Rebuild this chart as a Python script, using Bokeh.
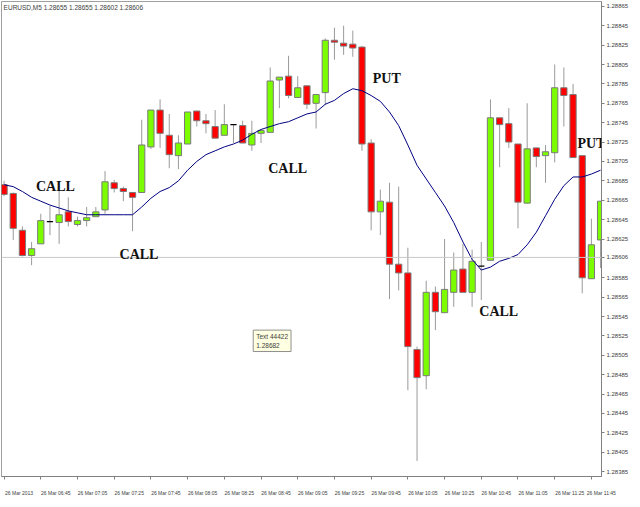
from bokeh.plotting import figure
from bokeh.models import (Range1d, FixedTicker, Label, Span, PrintfTickFormatter,
                          ColumnDataSource, LinearAxis)
from bokeh.embed import file_html
from bokeh.resources import INLINE

# ---- data (EURUSD M5, 26 Mar 2013 06:25 .. 11:50) ----
opens = [1.28681, 1.28672, 1.28634, 1.28608, 1.28620, 1.28643, 1.28642, 1.28653, 1.28640, 1.28644,
         1.28648, 1.28655, 1.28683, 1.28677, 1.28673, 1.28673, 1.28720, 1.28758, 1.28732, 1.28711,
         1.28723, 1.28757, 1.28747, 1.28741, 1.28732, 1.28743, 1.28742, 1.28722, 1.28734, 1.28735,
         1.28789, 1.28793, 1.28771, 1.28783, 1.28765, 1.28776, 1.28830, 1.28827, 1.28826, 1.28823,
         1.28724, 1.28653, 1.28663, 1.28599, 1.28590, 1.28511, 1.28484, 1.28570, 1.28549, 1.28570,
         1.28594, 1.28570, 1.28597, 1.28603, 1.28750, 1.28744, 1.28723, 1.28662, 1.28719, 1.28711,
         1.28714, 1.28781, 1.28774, 1.28711, 1.28584, 1.28624]
highs = [1.28685, 1.28673, 1.28638, 1.28622, 1.28651, 1.28659, 1.28676, 1.28668, 1.28648, 1.28658,
         1.28658, 1.28695, 1.28686, 1.28679, 1.28673, 1.28748, 1.28758, 1.28769, 1.28754, 1.28732,
         1.28756, 1.28757, 1.28754, 1.28758, 1.28764, 1.28743, 1.28747, 1.28747, 1.28737, 1.28802,
         1.28792, 1.28814, 1.28793, 1.28783, 1.28774, 1.28832, 1.28843, 1.28845, 1.28840, 1.28824,
         1.28728, 1.28676, 1.28683, 1.28679, 1.28616, 1.28514, 1.28582, 1.28576, 1.28625, 1.28611,
         1.28620, 1.28614, 1.28622, 1.28769, 1.28750, 1.28760, 1.28723, 1.28765, 1.28719, 1.28722,
         1.28805, 1.28802, 1.28785, 1.28711, 1.28646, 1.28664]
lows = [1.28669, 1.28624, 1.28607, 1.28598, 1.28620, 1.28629, 1.28620, 1.28638, 1.28638, 1.28638,
        1.28648, 1.28651, 1.28673, 1.28664, 1.28633, 1.28673, 1.28718, 1.28719, 1.28698, 1.28697,
        1.28723, 1.28741, 1.28734, 1.28729, 1.28732, 1.28724, 1.28724, 1.28716, 1.28724, 1.28735,
        1.28760, 1.28770, 1.28771, 1.28759, 1.28739, 1.28763, 1.28810, 1.28815, 1.28813, 1.28716,
        1.28634, 1.28629, 1.28563, 1.28572, 1.28469, 1.28396, 1.28470, 1.28531, 1.28549, 1.28555,
        1.28570, 1.28555, 1.28562, 1.28603, 1.28699, 1.28719, 1.28636, 1.28662, 1.28699, 1.28683,
        1.28704, 1.28741, 1.28709, 1.28569, 1.28584, 1.28595]
closes = [1.28671, 1.28636, 1.28608, 1.28615, 1.28644, 1.28643, 1.28650, 1.28643, 1.28644, 1.28647,
          1.28653, 1.28684, 1.28677, 1.28674, 1.28668, 1.28722, 1.28758, 1.28734, 1.28712, 1.28724,
          1.28756, 1.28747, 1.28744, 1.28729, 1.28743, 1.28743, 1.28724, 1.28734, 1.28737, 1.28788,
          1.28792, 1.28773, 1.28781, 1.28764, 1.28774, 1.28830, 1.28828, 1.28824, 1.28822, 1.28723,
          1.28653, 1.28664, 1.28599, 1.28590, 1.28514, 1.28482, 1.28570, 1.28550, 1.28573, 1.28593,
          1.28570, 1.28602, 1.28597, 1.28750, 1.28743, 1.28725, 1.28663, 1.28718, 1.28710, 1.28715,
          1.28781, 1.28773, 1.28709, 1.28585, 1.28619, 1.28664]
moving_avg = [1.28681, 1.28679, 1.28674, 1.28668, 1.28664, 1.28660, 1.28657, 1.28654, 1.28652, 1.28650,
              1.28650, 1.28650, 1.28650, 1.28650, 1.28650, 1.28658, 1.28667, 1.28674, 1.28678, 1.28685,
              1.28696, 1.28705, 1.28712, 1.28716, 1.28720, 1.28723, 1.28727, 1.28733, 1.28738, 1.28741,
              1.28744, 1.28746, 1.28750, 1.28754, 1.28756, 1.28764, 1.28768, 1.28775, 1.28780, 1.28778,
              1.28773, 1.28767, 1.28756, 1.28742, 1.28722, 1.28701, 1.28687, 1.28673, 1.28659, 1.28642,
              1.28622, 1.28604, 1.28593, 1.28596, 1.28602, 1.28605, 1.28609, 1.28619, 1.28632, 1.28649,
              1.28666, 1.28680, 1.28689, 1.28689, 1.28692, 1.28696]

x_tick_idx = [0, 4, 8, 12, 16, 20, 24, 28, 32, 36, 40, 44, 48, 52, 56, 60, 64]
x_tick_labels = ["26 Mar 2013", "26 Mar 06:45", "26 Mar 07:05", "26 Mar 07:25", "26 Mar 07:45",
                 "26 Mar 08:05", "26 Mar 08:25", "26 Mar 08:45", "26 Mar 09:05", "26 Mar 09:25",
                 "26 Mar 09:45", "26 Mar 10:05", "26 Mar 10:25", "26 Mar 10:45", "26 Mar 11:05",
                 "26 Mar 11:25", "26 Mar 11:45"]
# price scale labels (the 1.28605 level is covered by the current-price tag 1.28606)
y_ticks = [1.28385, 1.28405, 1.28425, 1.28445, 1.28465, 1.28485, 1.28505, 1.28525, 1.28545,
           1.28565, 1.28585, 1.28606, 1.28625, 1.28645, 1.28665, 1.28685, 1.28705, 1.28725,
           1.28745, 1.28765, 1.28785, 1.28805, 1.28825, 1.28845, 1.28865]
current_price = 1.28606
header_text = "EURUSD,M5  1.28655 1.28655 1.28602 1.28606"
signal_text = ["CALL", "CALL", "CALL", "PUT", "CALL", "PUT"]
signal_x = [5.6, 14.7, 30.9, 41.7, 53.9, 64.0]
signal_y = [1.28679, 1.28609, 1.28698, 1.28791, 1.28550, 1.28724]
tooltip_text = "Text 44422\n1.28682"
tooltip_x = 27.15
tooltip_y = 1.28531

# ---- derived ----
n = len(opens)
idx = list(range(n))
top = [max(o, c) for o, c in zip(opens, closes)]
bottom = [min(o, c) for o, c in zip(opens, closes)]
colors = ["#7CFC00" if c > o else "#FF0000" for o, c in zip(opens, closes)]
body = [i for i in idx if opens[i] != closes[i]]
body_src = ColumnDataSource(dict(x=body, top=[top[i] for i in body],
                                 bottom=[bottom[i] for i in body],
                                 color=[colors[i] for i in body]))
doji = [i for i in idx if opens[i] == closes[i]]

W = 0.68
FW = 600
FH = 475
XR = (-0.28, 65.1)
YR = (1.2838, 1.2887)
p = figure(frame_width=FW, frame_height=FH, output_backend="svg", toolbar_location=None,
           x_range=Range1d(*XR), y_range=Range1d(*YR),
           y_axis_location="right", x_axis_location=None, background_fill_color="white")
p.min_border_left = 1
p.min_border_top = 1
p.min_border_right = 0
p.min_border_bottom = 0
p.grid.visible = False
p.outline_line_color = "#a0a0a0"

# current price line
p.add_layout(Span(location=current_price, dimension="width", line_color="#c8c8c8", line_width=1))

# wicks
p.segment(x0=idx, y0=lows, x1=idx, y1=highs, line_color="#9a9a9a", line_width=1)
# bodies
p.vbar(x="x", top="top", bottom="bottom", width=W, fill_color="color",
       line_color="#7a7a7a", line_width=1, source=body_src)
# doji bars
p.segment(x0=[i - W / 2 for i in doji], y0=[opens[i] for i in doji],
          x1=[i + W / 2 for i in doji], y1=[closes[i] for i in doji],
          line_color="black", line_width=1.2)
# moving average
p.line(idx, moving_avg, line_color="#000080", line_width=1)

# signal labels
for t, xx, yy in zip(signal_text, signal_x, signal_y):
    p.add_layout(Label(x=xx, y=yy, text=t, text_align="center", text_baseline="middle",
                       text_font="Liberation Serif", text_font_style="bold",
                       text_font_size="14px", text_color="#111111"))

# header
p.add_layout(Label(x=-0.05, y=1.28864, text=header_text, text_baseline="middle",
                   text_font="Liberation Sans", text_font_size="6.5px", text_color="#404040"))
# tooltip
p.add_layout(Label(x=tooltip_x, y=tooltip_y, text=tooltip_text, text_baseline="top",
                   text_font="Liberation Sans", text_font_size="6.5px", text_color="#404040",
                   background_fill_color="#FFFFE1", border_line_color="#909090", padding=3))

# time axis: tick marks at bar positions
px_per_bar = FW / (XR[1] - XR[0])
tick_axis = LinearAxis(ticker=FixedTicker(ticks=x_tick_idx),
                       major_label_overrides={t: " " for t in x_tick_idx},
                       major_label_text_font_size="1px", major_label_standoff=0)
tick_axis.axis_line_color = "#808080"
tick_axis.major_tick_line_color = "#808080"
tick_axis.major_tick_out = 3
tick_axis.major_tick_in = 0
tick_axis.minor_tick_line_color = None
# time axis labels, shifted so that each reads to the right of its tick (MT4 style)
lab_font = 5.0
shift = 15.0 / px_per_bar
lab_ticks = [min(t + shift, XR[1] - 0.02) for t in x_tick_idx]
label_axis = LinearAxis(ticker=FixedTicker(ticks=lab_ticks),
                        major_label_overrides={lt: s for lt, s in zip(lab_ticks, x_tick_labels)},
                        major_label_text_font="Liberation Sans",
                        major_label_text_font_size=f"{lab_font}px",
                        major_label_text_color="#404040",
                        major_label_standoff=0,
                        axis_line_color=None, major_tick_line_color=None,
                        minor_tick_line_color=None)
p.add_layout(tick_axis, "below")
p.add_layout(label_axis, "below")

p.yaxis.ticker = FixedTicker(ticks=y_ticks)
p.yaxis.formatter = PrintfTickFormatter(format="%.5f")
p.yaxis.major_label_text_font = "Liberation Sans"
p.yaxis.major_label_text_font_size = "6px"
p.yaxis.major_label_text_color = "#404040"
p.yaxis.major_label_standoff = 2
p.yaxis.axis_line_color = "#808080"
p.yaxis.major_tick_line_color = "#808080"
p.yaxis.major_tick_out = 3
p.yaxis.major_tick_in = 0
p.yaxis.minor_tick_line_color = None

open("out.html", "w").write(file_html(p, INLINE))
